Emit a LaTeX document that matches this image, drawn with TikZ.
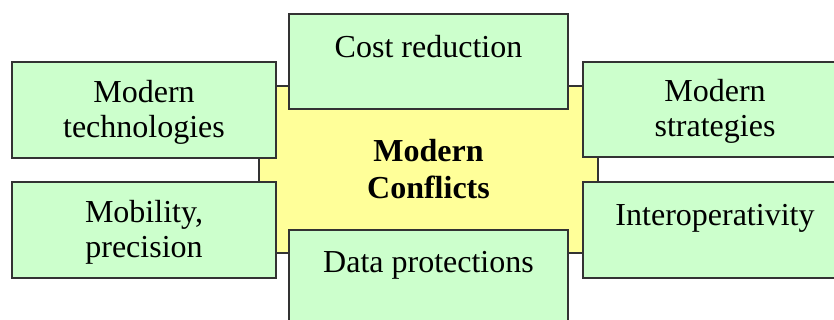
\documentclass[tikz,border=0pt]{standalone}
\usepackage{fontspec}
\setmainfont{Liberation Serif}
\definecolor{boxgreen}{HTML}{CCFFCC}
\definecolor{coreyellow}{HTML}{FFFF99}
\definecolor{edge}{HTML}{333333}
\newcommand\lowered[1]{\raisebox{-1.5pt}[\height][\depth]{\begin{tabular}{@{}c@{}}#1\end{tabular}}}
\begin{document}
\begin{tikzpicture}[x=0.5pt,y=-0.5pt,
  box/.style={draw=edge, line width=1pt, fill=boxgreen, inner sep=0pt,
    font=\fontsize{16}{17.5}\selectfont, text=black},
  side/.style={box, minimum width=132pt, minimum height=48pt},
  toptext/.style={box, text height=#1, text depth=47.5pt-#1},
  core/.style={draw=edge, line width=1pt, fill=coreyellow, inner sep=0pt,
    minimum width=169.5pt, minimum height=83.5pt,
    font=\fontsize{16}{18.5}\selectfont\bfseries}]
\useasboundingbox (0,0) rectangle (834,320);
\clip (0,0) rectangle (834,320);
\node[core] (mc) at (428.5,169.5) {\lowered{Modern\\Conflicts}};
\node[toptext=21.75pt, minimum width=139.5pt] (cost) at (428.5,61.5) {Cost reduction};
\node[toptext=21.25pt, minimum width=139.5pt] (data) at (428.5,277.5) {Data protections};
\node[side] (tech) at (144,110) {\lowered{Modern\\technologies}};
\node[side] (mob) at (144,230) {\lowered{Mobility,\\precision}};
\node[side, minimum height=47.5pt] (strat) at (715,109.5) {\lowered{Modern\\strategies}};
\node[box, minimum width=132pt, text height=21.75pt, text depth=26.25pt] (inter) at (715,230) {Interoperativity};
\end{tikzpicture}
\end{document}
